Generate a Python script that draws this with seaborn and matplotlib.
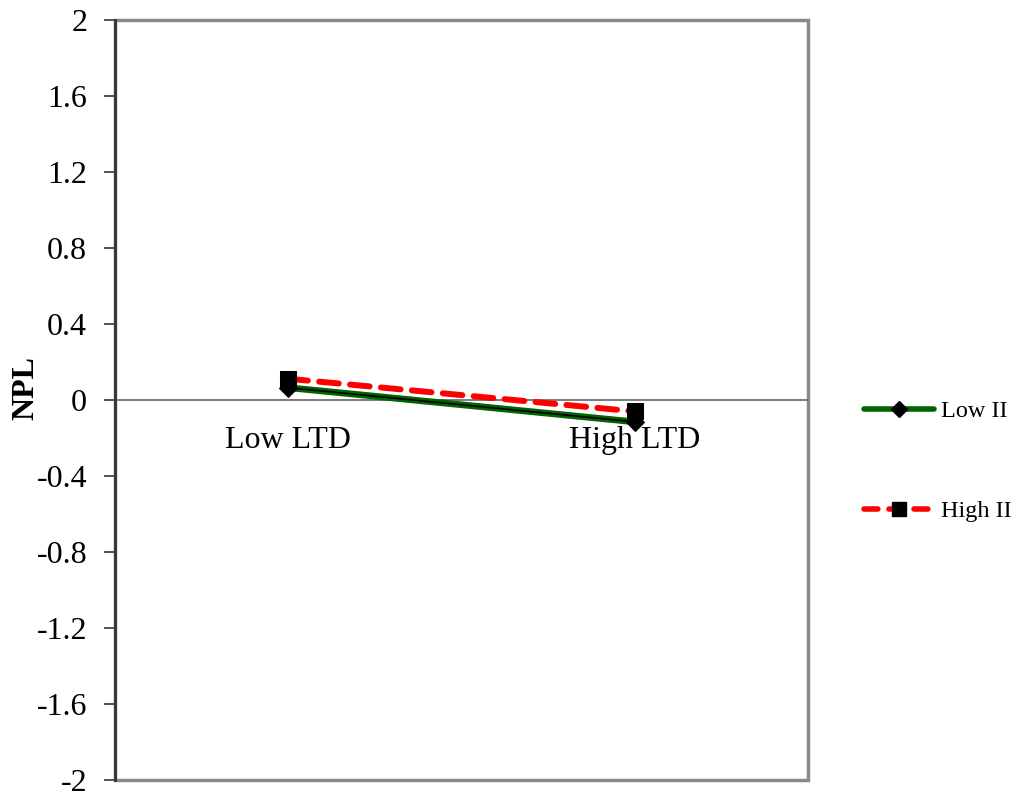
import matplotlib
matplotlib.use("Agg")
import matplotlib.pyplot as plt
from matplotlib.lines import Line2D
from matplotlib.patches import Rectangle
import seaborn as sns
import pandas as pd

# Simple-slope values of NPL by LTD level for low / high II
categories = ["Low LTD", "High LTD"]
low_ii = [0.065, -0.115]
high_ii = [0.112, -0.060]
series_names = ["Low II", "High II"]
y_ticks = [-2, -1.6, -1.2, -0.8, -0.4, 0, 0.4, 0.8, 1.2, 1.6, 2]
y_tick_labels = ["-2", "-1.6", "-1.2", "-0.8", "-0.4", "0", "0.4", "0.8", "1.2", "1.6", "2"]

sns.set_theme(style="white")
plt.rcParams["font.family"] = ["Liberation Serif", "DejaVu Serif"]
plt.rcParams["text.color"] = "black"
plt.rcParams["xtick.color"] = "black"
plt.rcParams["ytick.color"] = "black"
plt.rcParams["axes.labelcolor"] = "black"

df = pd.DataFrame({
    "pos": list(range(len(categories))) * 2,
    "NPL": low_ii + high_ii,
    "series": [series_names[0]] * len(categories) + [series_names[1]] * len(categories),
})

fig = plt.figure(figsize=(10.17, 7.94), dpi=100)
ax = fig.add_axes([0.113, 0.0176, 0.6815, 0.9572])

low_df = df[df["series"] == "Low II"]
high_df = df[df["series"] == "High II"]

sns.lineplot(data=low_df, x="pos", y="NPL", ax=ax, color="#006400", lw=4.8,
             marker="D", markersize=9, markerfacecolor="black",
             markeredgecolor="black", legend=False, zorder=3)
sns.lineplot(data=low_df, x="pos", y="NPL", ax=ax, color="black", lw=1.2,
             legend=False, zorder=4)
sns.lineplot(data=high_df, x="pos", y="NPL", ax=ax, color="#ff0000", lw=4.3,
             marker="s", markersize=11, markerfacecolor="black",
             markeredgecolor="black", legend=False, zorder=5)
ax.lines[-1].set_dashes([3.3, 1.9])
ax.lines[-1].set_dash_capstyle("round")

ax.set_xlim(-0.5, len(categories) - 0.5)
ax.set_ylim(-2, 2)
ax.set_yticks(y_ticks)
ax.set_yticklabels(y_tick_labels, fontsize=23)
ax.set_xticks(range(len(categories)))
ax.set_xticklabels(categories, fontsize=23)
ax.tick_params(axis="x", which="major", length=0, pad=19, labelsize=23,
               labelcolor="black")
ax.set_xticks([0.5], minor=True)
ax.tick_params(axis="x", which="minor", length=8, direction="inout",
               color="#555555", width=1)
ax.tick_params(axis="y", length=8, width=1.2, color="#333333",
               direction="out", pad=12, left=True, labelsize=23,
               labelcolor="black")
ax.set_xlabel("")
ax.set_ylabel("NPL", fontsize=23, fontweight="bold", color="black")
ax.yaxis.set_label_coords(-0.107, 0.516)

# Category axis crossing at zero
ax.spines["bottom"].set_position(("data", 0))
ax.spines["bottom"].set_color("#666666")
ax.spines["bottom"].set_linewidth(1.2)
for side in ["top", "right"]:
    ax.spines[side].set_visible(False)
ax.spines["left"].set_color("#333333")
ax.spines["left"].set_linewidth(2)
ax.spines["left"].set_zorder(6)

# Plot-area border
ax.add_patch(Rectangle((0, 0), 1, 1, transform=ax.transAxes, fill=False,
                       edgecolor="#8a8a8a", lw=2.5, clip_on=False, zorder=2))

handles = [
    Line2D([], [], color="#006400", lw=4, marker="D", markersize=8,
           markerfacecolor="black", markeredgecolor="black"),
    Line2D([], [], color="#ff0000", lw=4, marker="s", markersize=10,
           markerfacecolor="black", markeredgecolor="black",
           dashes=[2.5, 2], dash_capstyle="round"),
]
fig.legend(handles, series_names, loc="upper left",
           bbox_to_anchor=(0.84, 0.508), frameon=False, fontsize=17.5,
           handlelength=2.9, handletextpad=0.25, labelspacing=3.2,
           borderaxespad=0)

fig.savefig("out.png", dpi=100, facecolor="white")
